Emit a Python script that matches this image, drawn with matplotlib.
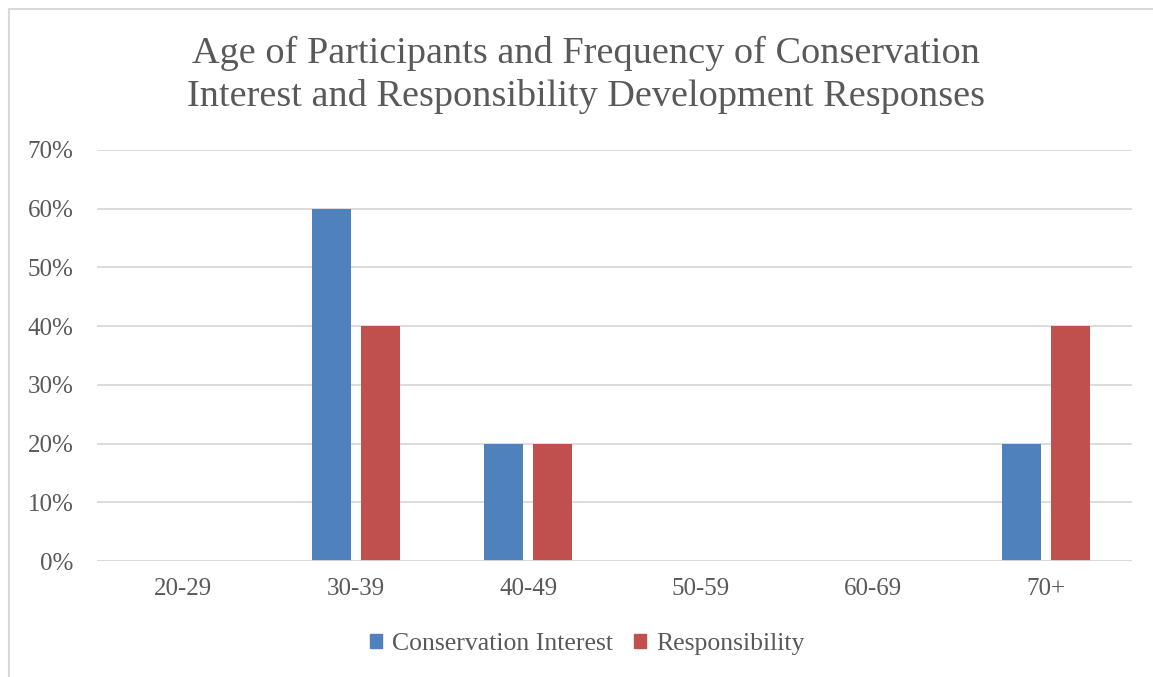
import matplotlib.pyplot as plt
import numpy as np
from matplotlib.patches import Rectangle, Patch

plt.rcParams['font.family'] = ['Liberation Serif', 'DejaVu Serif']

# data
age_groups = ['20-29', '30-39', '40-49', '50-59', '60-69', '70+']
conservation_interest = [0.0, 0.60, 0.20, 0.0, 0.0, 0.20]
responsibility = [0.0, 0.40, 0.20, 0.0, 0.0, 0.40]
y_ticks = [0.0, 0.1, 0.2, 0.3, 0.4, 0.5, 0.6, 0.7]

blue = '#4F81BD'
red = '#C0504D'
text_c = '#595959'
grid_c = '#D9D9D9'

W, H = 1153, 677
fig = plt.figure(figsize=(W / 100, H / 100), dpi=100)

# outer chart frame (cropped at right/bottom)
fig.patches.append(Rectangle((9 / W, -0.05), 1.2, 1 - 9 / H + 0.05, transform=fig.transFigure,
                             fill=False, edgecolor='#D9D9D9', linewidth=1.5))

ax = fig.add_axes([97 / W, 1 - 561 / H, 1035 / W, 411 / H])

x = np.arange(len(age_groups))
bw = 0.226
off = 0.142
ax.bar(x - off, conservation_interest, width=bw, color=blue, zorder=2)
ax.bar(x + off, responsibility, width=bw, color=red, zorder=2)

ax.set_xlim(-0.5, len(age_groups) - 0.5)
ax.set_ylim(0, 0.7)
ax.set_yticks(y_ticks)
ax.set_yticklabels([f'{int(round(t * 100))}%' for t in y_ticks])
ax.set_xticks(x)
ax.set_xticklabels(age_groups)
ax.tick_params(axis='both', length=0, labelsize=18, colors=text_c)
ax.tick_params(axis='y', pad=17)
ax.tick_params(axis='x', pad=12)
ax.yaxis.grid(True, color=grid_c, linewidth=1.3, zorder=0)
for s in ax.spines.values():
    s.set_visible(False)
ax.axhline(0, color=grid_c, linewidth=1.3, zorder=3)

fig.text(586 / W, 1 - 75 / H,
         'Age of Participants and Frequency of Conservation\nInterest and Responsibility Development Responses',
         ha='center', va='center', fontsize=27.5, color=text_c, linespacing=1.3)

handles = [Patch(color=blue, label='Conservation Interest'),
           Patch(color=red, label='Responsibility')]
fig.legend(handles=handles, loc='center', bbox_to_anchor=(587 / W, 1 - 644 / H), ncol=2,
           frameon=False, fontsize=18.5, handlelength=0.47, handleheight=0.47,
           handletextpad=0.4, columnspacing=0.8, labelcolor=text_c,
           borderpad=0, borderaxespad=0)

fig.savefig('out.png', dpi=100)
